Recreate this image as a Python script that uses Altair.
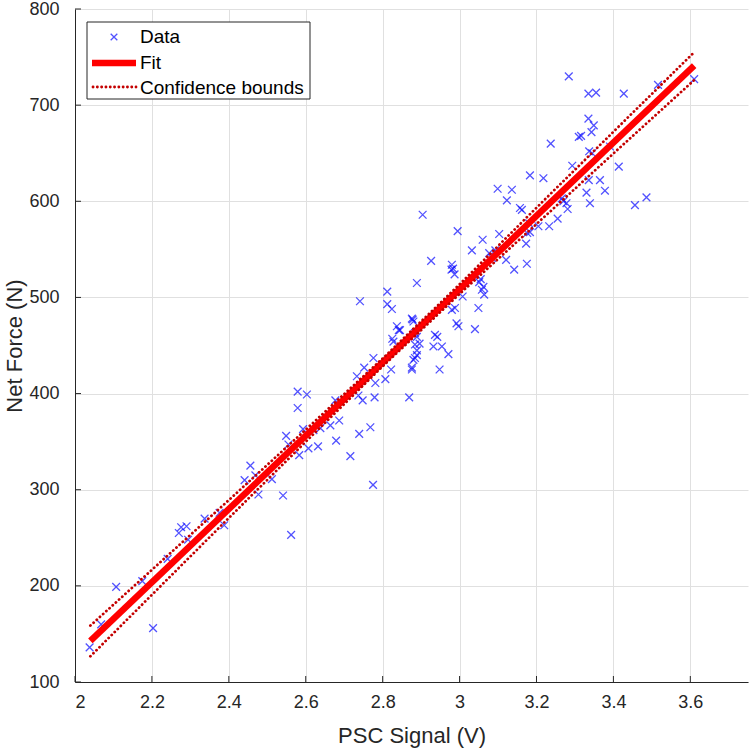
import altair as alt
import pandas as pd

# Measured PSC sensor output (V) and the net force (N) applied at each sample
psc_signal = [
    2.038, 2.068, 2.107, 2.203, 2.175, 2.241, 2.270, 2.276, 2.290, 2.294,
    2.337, 2.376, 2.388, 2.441, 2.456, 2.469, 2.477, 2.512, 2.541, 2.562,
    2.583, 2.549, 2.555, 2.579, 2.603, 2.579, 2.593, 2.607, 2.632, 2.620,
    2.638, 2.664, 2.687, 2.679, 2.716, 2.677, 2.739, 2.768, 2.775, 2.737,
    2.748, 2.779, 2.733, 2.752, 2.776, 2.781, 2.807, 2.822, 2.869, 2.876,
    2.884, 2.889, 2.828, 2.884, 2.845, 2.741, 2.812, 2.812, 2.824, 2.837,
    2.842, 2.878, 2.889, 2.825, 2.889, 2.904, 2.995, 2.926, 2.980, 2.983,
    2.979, 2.987, 3.032, 3.060, 3.103, 3.077, 3.121, 3.142, 3.173, 3.175,
    3.123, 3.157, 3.181, 3.205, 3.233, 3.255, 3.278, 3.281, 3.055, 3.051,
    3.062, 3.064, 3.058, 3.008, 3.049, 3.040, 2.988, 2.980, 2.992, 2.997,
    2.936, 2.942, 2.932, 2.954, 2.971, 2.948, 2.876, 2.880, 2.884, 2.896,
    2.889, 2.880, 2.876, 3.093, 3.084, 3.183, 3.284, 3.237, 3.310, 3.293,
    3.183, 3.218, 3.099, 3.136, 3.266, 3.270, 3.335, 3.355, 3.427, 3.516,
    3.610, 3.335, 3.349, 3.343, 3.316, 3.337, 3.345, 3.414, 3.391, 3.336,
    3.365, 3.378, 3.330, 3.339, 3.456, 3.486, 3.176, 3.162,
]
net_force = [
    136, 160, 199, 156, 205, 228, 255, 261, 262, 248,
    270, 276, 263, 310, 325, 315, 295, 311, 294, 253,
    336, 356, 347, 402, 399, 385, 363, 343, 345, 362,
    364, 367, 372, 351, 335, 393, 358, 365, 305, 398,
    393, 396, 418, 427, 437, 411, 415, 425, 396, 427,
    437, 445, 454, 451, 466, 496, 506, 493, 488, 470,
    466, 477, 515, 457, 459, 586, 569, 538, 534, 530,
    529, 524, 549, 560, 566, 546, 539, 529, 556, 535,
    601, 593, 577, 574, 574, 582, 598, 592, 519, 516,
    511, 503, 508, 501, 489, 467, 489, 487, 473, 470,
    461, 459, 449, 449, 441, 425, 478, 475, 463, 452,
    440, 435, 425, 549, 541, 568, 730, 660, 667, 637,
    627, 624, 613, 612, 603, 600, 712, 713, 712, 721,
    727, 686, 679, 672, 668, 652, 650, 636, 657, 622,
    622, 611, 609, 598, 596, 604, 567, 591,
]

# Linear fit and its confidence bounds
fit_x = [2.04, 3.61]
fit_y = [142.7, 741.0]
bound_x = [2.04, 2.2, 2.4, 2.6, 2.8, 3.0, 3.2, 3.4, 3.61]
bound_upper = [158.7, 216.7, 289.2, 362.5, 436.5, 513.6, 593.3, 672.3, 755.0]
bound_lower = [126.7, 190.7, 270.6, 349.9, 428.3, 503.6, 576.3, 649.7, 726.0]

x_ticks = [2.0, 2.2, 2.4, 2.6, 2.8, 3.0, 3.2, 3.4, 3.6]
y_ticks = [100, 200, 300, 400, 500, 600, 700, 800]

legend_labels = ["Data", "Fit", "Confidence bounds"]

W, H = 673, 673
INK = "#262626"
FONT = "Liberation Sans"
BLUE = "#0a0aff"
RED = "#ff0000"
DARK_RED = "#c40000"
CROSS = "M-1,-1L1,1M-1,1L1,-1"
DOTS = [0.1, 4.2]

x_scale = alt.Scale(domain=[2, 3.75], nice=False, zero=False)
y_scale = alt.Scale(domain=[100, 800], nice=False, zero=False)

x_axis = alt.Axis(
    values=x_ticks, format="~g", grid=True, gridColor="#e0e0e0", gridWidth=1,
    domainColor=INK, domainWidth=1, tickSize=0, labelPadding=11,
    labelFont=FONT, labelFontSize=18, labelColor=INK,
    titleFont=FONT, titleFontSize=22, titleFontWeight="normal", titleColor=INK,
    titleY=53, titleBaseline="middle",
)
y_axis = alt.Axis(
    values=y_ticks, grid=True, gridColor="#e0e0e0", gridWidth=1,
    domainColor=INK, domainWidth=1, tickSize=0, labelPadding=16,
    labelFont=FONT, labelFontSize=18, labelColor=INK,
    titleFont=FONT, titleFontSize=22, titleFontWeight="normal", titleColor=INK,
    titleX=-61, titleY=H / 2, titleBaseline="middle",
)


def X(field="psc"):
    return alt.X(f"{field}:Q", scale=x_scale, axis=x_axis, title="PSC Signal (V)")


def Y(field="force"):
    return alt.Y(f"{field}:Q", scale=y_scale, axis=y_axis, title="Net Force (N)")


data_df = pd.DataFrame({"psc": psc_signal, "force": net_force})
fit_df = pd.DataFrame({"psc": fit_x, "force": fit_y})
bounds_df = pd.concat([
    pd.DataFrame({"psc": bound_x, "force": bound_upper, "side": "upper"}),
    pd.DataFrame({"psc": bound_x, "force": bound_lower, "side": "lower"}),
])

points = alt.Chart(data_df).mark_point(
    shape=CROSS, filled=False, color=BLUE, strokeWidth=1.3, size=60
).encode(x=X(), y=Y())

fit_line = alt.Chart(fit_df).mark_line(
    color=RED, strokeWidth=6.5, strokeCap="butt"
).encode(x=X(), y=Y())

bound_lines = alt.Chart(bounds_df).mark_line(
    color=DARK_RED, strokeWidth=2.8, strokeDash=DOTS, strokeCap="round"
).encode(x=X(), y=Y(), detail="side:N")

# Inward-pointing tick marks along the bottom and left axes
x_tick_marks = alt.Chart(pd.DataFrame({"psc": x_ticks})).mark_rule(
    color=INK, strokeWidth=1
).encode(x=X(), y=alt.value(H), y2=alt.value(H - 6))
y_tick_marks = alt.Chart(pd.DataFrame({"force": y_ticks})).mark_rule(
    color=INK, strokeWidth=1
).encode(y=Y(), x=alt.value(0), x2=alt.value(6))

# Legend box in the upper-left corner
one = pd.DataFrame({"k": [0]})
legend_box = alt.Chart(one).mark_rect(
    fill="white", stroke=INK, strokeWidth=1
).encode(x=alt.value(12), x2=alt.value(235), y=alt.value(13), y2=alt.value(90))
legend_point = alt.Chart(one).mark_point(
    shape=CROSS, filled=False, color=BLUE, strokeWidth=1.3, size=44
).encode(x=alt.value(39), y=alt.value(28))
legend_fit = alt.Chart(one).mark_rule(color=RED, strokeWidth=6.5).encode(
    x=alt.value(17), x2=alt.value(61), y=alt.value(54)
)
legend_bound = alt.Chart(one).mark_rule(
    color=DARK_RED, strokeWidth=2.8, strokeDash=DOTS, strokeCap="round"
).encode(x=alt.value(18), x2=alt.value(61), y=alt.value(78))


def legend_text(label, y):
    return alt.Chart(one).mark_text(
        text=label, align="left", baseline="middle",
        font=FONT, fontSize=19, color="black"
    ).encode(x=alt.value(65), y=alt.value(y))


chart = alt.layer(
    points, fit_line, bound_lines, x_tick_marks, y_tick_marks,
    legend_box, legend_point, legend_fit, legend_bound,
    legend_text(legend_labels[0], 28),
    legend_text(legend_labels[1], 54),
    legend_text(legend_labels[2], 79),
).properties(
    width=W, height=H, autosize="none",
    padding={"left": 75, "top": 9, "right": 2, "bottom": 68},
    background="white",
).configure_view(stroke=None)

chart.save("out.html", embed_options={"renderer": "svg", "actions": False})
